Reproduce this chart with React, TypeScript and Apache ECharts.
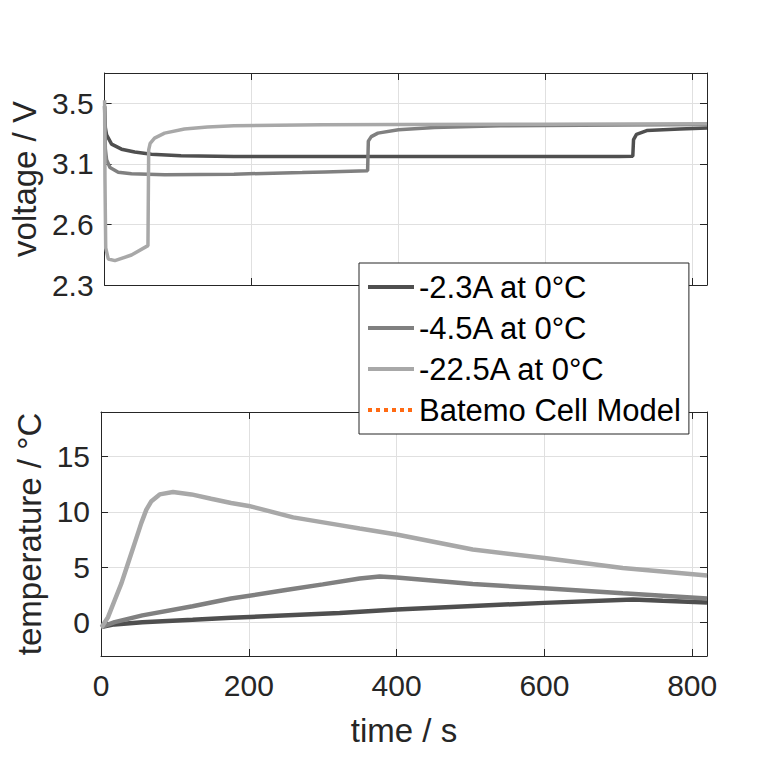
import React, { useEffect, useRef } from 'react';
import * as echarts from 'echarts';

const NAMES = ['-2.3A at 0°C', '-4.5A at 0°C', '-22.5A at 0°C', 'Batemo Cell Model'];
const COLORS = ['#4f4f4f', '#808080', '#a8a8a8', '#ff6a13'];

// Time axis
const TIME_TICKS = [0, 200, 400, 600, 800];
// Voltage axis tick positions and their printed labels
const V_TICK_VALUES = [2.3, 2.7, 3.1, 3.5];
const V_TICK_LABELS = ['2.3', '2.6', '3.1', '3.5'];
// Temperature axis ticks
const T_TICKS = [0, 5, 10, 15];

// Voltage, -2.3 A
const V1_T = [0, 1, 2.7, 9.5, 23, 41, 63.6, 104, 176, 300, 400, 500, 600, 700, 719, 720, 724, 738, 783, 820];
const V1_V = [3.48, 3.34, 3.292, 3.23, 3.197, 3.178, 3.164, 3.153, 3.149, 3.148, 3.148, 3.148, 3.148, 3.149, 3.15, 3.26, 3.295, 3.32, 3.33, 3.336];
// Voltage, -4.5 A
const V2_T = [0, 1, 2.7, 7.3, 18.5, 36.6, 81.7, 176, 269, 300, 358, 359, 363, 372, 400, 449, 539, 650, 820];
const V2_V = [3.48, 3.2, 3.127, 3.076, 3.045, 3.034, 3.028, 3.032, 3.043, 3.047, 3.054, 3.25, 3.28, 3.303, 3.325, 3.34, 3.351, 3.355, 3.36];
// Voltage, -22.5 A
const V3_T = [0, 0.5, 1.5, 5, 14, 36.6, 59, 60, 62, 68, 81.7, 108.7, 140, 176, 296, 400, 600, 820];
const V3_V = [3.52, 3.0, 2.545, 2.472, 2.461, 2.498, 2.56, 3.193, 3.235, 3.27, 3.303, 3.33, 3.343, 3.352, 3.358, 3.36, 3.362, 3.365];

// Temperature, -2.3 A
const T1_T = [0, 18, 56, 124, 176, 323, 400, 503, 600, 720, 760, 820];
const T1_V = [-0.4, -0.15, 0.05, 0.27, 0.45, 0.88, 1.19, 1.51, 1.79, 2.1, 1.98, 1.82];
// Temperature, -4.5 A
const T2_T = [0, 18.5, 56, 124, 176, 250, 300, 350, 377, 400, 503, 600, 706, 820];
const T2_V = [-0.4, 0.05, 0.66, 1.48, 2.18, 2.95, 3.46, 3.98, 4.16, 4.07, 3.49, 3.1, 2.65, 2.19];
// Temperature, -22.5 A
const T3_T = [0, 1.4, 9.5, 18.5, 27.6, 36.6, 45.6, 54.6, 61.4, 68.2, 79.4, 97.4, 122.3, 149, 176, 200, 260, 323, 350, 400, 503, 600, 706, 820];
const T3_V = [-0.4, -0.34, 0.5, 2.03, 3.55, 5.36, 7.18, 9.0, 10.2, 10.96, 11.57, 11.78, 11.57, 11.18, 10.8, 10.53, 9.5, 8.8, 8.5, 7.96, 6.6, 5.84, 4.93, 4.25];

// Model curve (legend only, hidden under the measurements)
const BATEMO: number[][] = [];

const zip = (a: number[], b: number[]) => a.map((x, i) => [x, b[i]]);

const FONT = "'Liberation Sans', Arial, Helvetica, sans-serif";
const AXIS_COLOR = '#262626';
const GRID_COLOR = '#e0e0e0';

const pick = (ticks: number[], labels?: string[]) => (val: number) => {
  const i = ticks.findIndex((t) => Math.abs(t - val) < 1e-6);
  return i >= 0 ? (labels ? labels[i] : String(ticks[i])) : '';
};

export default function App() {
  const ref = useRef<HTMLDivElement>(null);

  useEffect(() => {
    if (!ref.current) return;
    const chart = echarts.init(ref.current, null, { renderer: 'svg' });

    const line = { show: true, onZero: false, lineStyle: { color: AXIS_COLOR, width: 1 } };
    const tick = { show: true, inside: true, length: 7, lineStyle: { color: AXIS_COLOR, width: 1 } };
    const split = { show: true, lineStyle: { color: GRID_COLOR, width: 1 } };
    const label = { fontSize: 30, color: AXIS_COLOR, fontFamily: FONT };
    const nameStyle = { fontSize: 33, color: AXIS_COLOR, fontFamily: FONT };

    const xBase = { type: 'value', min: 0, max: 820, interval: 200, axisLine: line, axisTick: tick };
    const vBase = { type: 'value', min: 2.3, max: 3.7, interval: 0.4, axisLine: line, axisTick: tick };
    const tBase = { type: 'value', min: -3, max: 19, splitNumber: 5, axisLine: line, axisTick: tick };

    const topSeries = [zip(V1_T, V1_V), zip(V2_T, V2_V), zip(V3_T, V3_V)].map((d, i) => ({
      type: 'line',
      name: NAMES[i],
      xAxisIndex: 0,
      yAxisIndex: 0,
      data: d,
      symbol: 'none',
      lineStyle: { color: COLORS[i], width: 3.5 },
      itemStyle: { color: COLORS[i] },
    }));
    const botSeries = [zip(T1_T, T1_V), zip(T2_T, T2_V), zip(T3_T, T3_V)].map((d, i) => ({
      type: 'line',
      name: NAMES[i],
      xAxisIndex: 2,
      yAxisIndex: 2,
      data: d,
      symbol: 'none',
      lineStyle: { color: COLORS[i], width: 4.5 },
      itemStyle: { color: COLORS[i] },
    }));

    chart.setOption({
      animation: false,
      backgroundColor: '#ffffff',
      textStyle: { fontFamily: FONT },
      grid: [
        { left: 101, right: 74, top: 73, height: 212 },
        { left: 101, right: 74, top: 412, height: 244 },
      ],
      xAxis: [
        { ...xBase, gridIndex: 0, position: 'bottom', axisLabel: { show: false }, splitLine: split },
        { ...xBase, gridIndex: 0, position: 'top', axisLabel: { show: false }, splitLine: { show: false } },
        {
          ...xBase,
          gridIndex: 1,
          position: 'bottom',
          axisLabel: { ...label, margin: 14, formatter: pick(TIME_TICKS) },
          splitLine: split,
          name: 'time / s',
          nameLocation: 'middle',
          nameGap: 58,
          nameTextStyle: nameStyle,
        },
        { ...xBase, gridIndex: 1, position: 'top', axisLabel: { show: false }, splitLine: { show: false } },
      ],
      yAxis: [
        {
          ...vBase,
          gridIndex: 0,
          position: 'left',
          axisLabel: { ...label, margin: 11, formatter: pick(V_TICK_VALUES, V_TICK_LABELS) },
          splitLine: split,
          name: 'voltage / V',
          nameLocation: 'middle',
          nameGap: 52,
          nameTextStyle: nameStyle,
        },
        { ...vBase, gridIndex: 0, position: 'right', axisLabel: { show: false }, splitLine: { show: false } },
        {
          ...tBase,
          gridIndex: 1,
          position: 'left',
          axisLabel: { ...label, margin: 11, formatter: pick(T_TICKS) },
          splitLine: split,
          name: 'temperature / °C',
          nameLocation: 'middle',
          nameGap: 52,
          nameTextStyle: nameStyle,
        },
        { ...tBase, gridIndex: 1, position: 'right', axisLabel: { show: false }, splitLine: { show: false } },
      ],
      legend: {
        orient: 'vertical',
        left: 359,
        top: 263,
        padding: [7, 8, 7, 7],
        itemWidth: 46,
        itemHeight: 14,
        itemGap: 7,
        backgroundColor: '#ffffff',
        borderColor: AXIS_COLOR,
        borderWidth: 1,
        borderRadius: 0,
        itemStyle: { opacity: 0 },
        lineStyle: { width: 4 },
        textStyle: { fontSize: 31, lineHeight: 34, color: '#000000', fontFamily: FONT },
        data: NAMES,
        selectedMode: false,
        z: 10,
      },
      series: [
        ...topSeries,
        ...botSeries,
        {
          type: 'line',
          name: NAMES[3],
          xAxisIndex: 0,
          yAxisIndex: 0,
          data: BATEMO,
          symbol: 'none',
          lineStyle: { color: COLORS[3], width: 3, type: 'dotted' },
          itemStyle: { color: COLORS[3] },
        },
      ],
    });

    return () => chart.dispose();
  }, []);

  return (
    <div
      ref={ref}
      style={{ position: 'fixed', left: 0, top: 0, width: 781, height: 781, background: '#ffffff' }}
    />
  );
}
